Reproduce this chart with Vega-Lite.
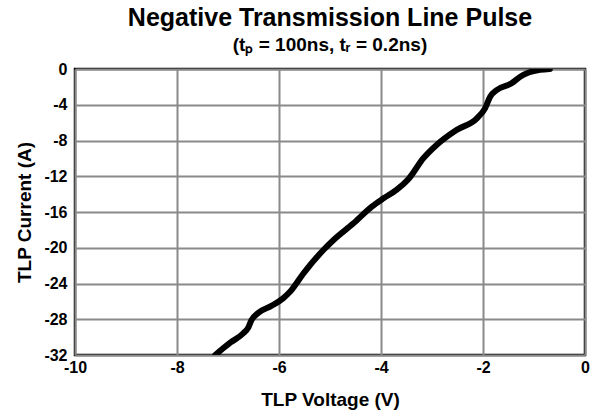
{
  "$schema": "https://vega.github.io/schema/vega-lite/v6.json",
  "width": 510,
  "height": 286,
  "autosize": "none",
  "padding": {"left": 75, "top": 69, "right": 11, "bottom": 62},
  "background": "white",
  "config": {
    "view": {"stroke": "black", "strokeWidth": 2.5},
    "font": "Liberation Sans"
  },
  "title": {
    "text": "Negative Transmission Line Pulse",
    "subtitle": "(tₚ = 100ns, tᵣ = 0.2ns)",
    "anchor": "middle",
    "dx": 0,
    "font": "Liberation Sans",
    "fontSize": 25,
    "fontWeight": "bold",
    "color": "black",
    "subtitleFont": "Liberation Sans",
    "subtitleFontSize": 19,
    "subtitleFontWeight": "bold",
    "subtitleColor": "black",
    "subtitlePadding": 5,
    "offset": 6
  },
  "data": {
    "values": [
      {"v": -7.25, "i": -32.0},
      {"v": -6.95, "i": -30.6},
      {"v": -6.70, "i": -29.57},
      {"v": -6.60, "i": -28.9},
      {"v": -6.54, "i": -28.1},
      {"v": -6.41, "i": -27.3},
      {"v": -6.15, "i": -26.5},
      {"v": -5.92, "i": -25.66},
      {"v": -5.78, "i": -24.9},
      {"v": -5.52, "i": -22.86},
      {"v": -5.13, "i": -20.25},
      {"v": -4.93, "i": -19.13},
      {"v": -4.54, "i": -17.27},
      {"v": -4.18, "i": -15.4},
      {"v": -3.95, "i": -14.47},
      {"v": -3.69, "i": -13.5},
      {"v": -3.46, "i": -12.3},
      {"v": -3.17, "i": -9.99},
      {"v": -2.91, "i": -8.5},
      {"v": -2.52, "i": -6.83},
      {"v": -2.12, "i": -5.52},
      {"v": -1.96, "i": -4.4},
      {"v": -1.86, "i": -3.1},
      {"v": -1.73, "i": -2.35},
      {"v": -1.44, "i": -1.6},
      {"v": -1.27, "i": -0.86},
      {"v": -1.14, "i": -0.48},
      {"v": -0.88, "i": -0.1},
      {"v": -0.69, "i": 0.0}
    ]
  },
  "mark": {"type": "line", "color": "black", "strokeWidth": 6, "interpolate": "monotone", "clip": true, "strokeCap": "round"},
  "encoding": {
    "x": {
      "field": "v", "type": "quantitative",
      "scale": {"domain": [-10, 0], "nice": false, "zero": false},
      "axis": {
        "title": "TLP Voltage (V)", "values": [-10, -8, -6, -4, -2, 0],
        "labelExpr": "'' + datum.value",
        "grid": true, "gridColor": "#8a8a8a", "gridWidth": 2, "gridOpacity": 1,
        "domain": false, "ticks": false,
        "labelFont": "Liberation Sans", "labelFontSize": 16, "labelFontWeight": "bold", "labelColor": "black",
        "labelPadding": 4, "labelFlush": false,
        "titleFont": "Liberation Sans", "titleFontSize": 19, "titleFontWeight": "bold", "titleColor": "black",
        "titlePadding": 15
      }
    },
    "y": {
      "field": "i", "type": "quantitative",
      "scale": {"domain": [-32, 0], "nice": false, "zero": false},
      "axis": {
        "title": "TLP Current (A)", "values": [-32, -28, -24, -20, -16, -12, -8, -4, 0],
        "labelExpr": "'' + datum.value",
        "grid": true, "gridColor": "#8a8a8a", "gridWidth": 2, "gridOpacity": 1,
        "domain": false, "ticks": false,
        "labelFont": "Liberation Sans", "labelFontSize": 16, "labelFontWeight": "bold", "labelColor": "black",
        "labelPadding": 8, "labelFlush": false,
        "titleFont": "Liberation Sans", "titleFontSize": 19, "titleFontWeight": "bold", "titleColor": "black",
        "titlePadding": 9
      }
    }
  }
}
